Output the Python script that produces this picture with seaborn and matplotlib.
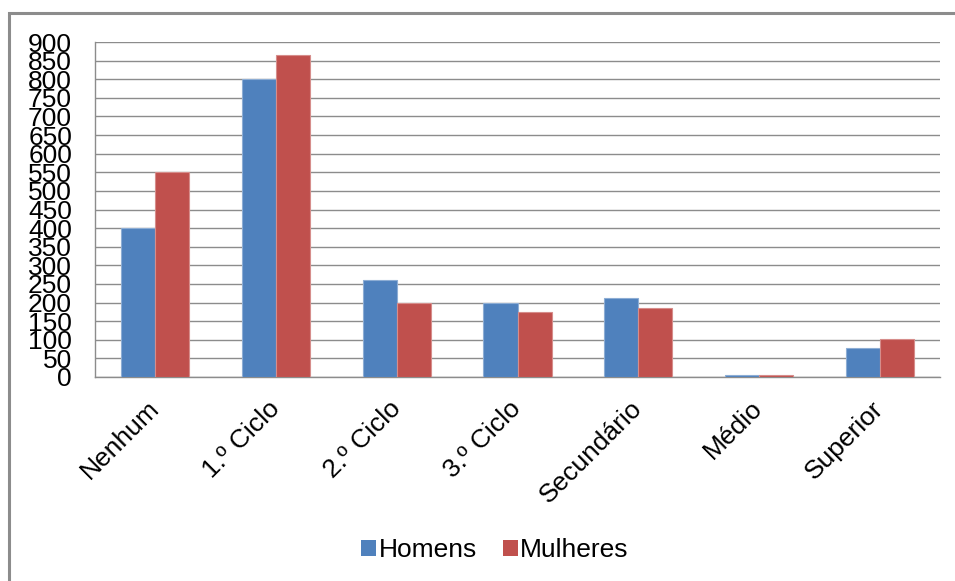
import numpy as np
import pandas as pd
import matplotlib
matplotlib.use("Agg")
import matplotlib.pyplot as plt
import matplotlib.colors as mcolors
from matplotlib.patches import Rectangle
import seaborn as sns

# Nível de escolaridade por sexo
CATEGORIAS = ["Nenhum", "1.º Ciclo", "2.º Ciclo", "3.º Ciclo",
              "Secundário", "Médio", "Superior"]
HOMENS = [400, 800, 260, 200, 213, 6, 78]
MULHERES = [550, 865, 200, 175, 185, 6, 101]
SERIES = ["Homens", "Mulheres"]
CORES = ["#4F81BD", "#C0504D"]
Y_TICKS = list(range(0, 901, 50))

df = pd.DataFrame({
    "categoria": CATEGORIAS * 2,
    "valor": HOMENS + MULHERES,
    "sexo": [SERIES[0]] * len(CATEGORIAS) + [SERIES[1]] * len(CATEGORIAS),
})

sns.set_style("white")
plt.rcParams["font.family"] = ["Liberation Sans", "DejaVu Sans"]
plt.rcParams["text.color"] = "black"
plt.rcParams["xtick.labelcolor"] = "black"
plt.rcParams["ytick.labelcolor"] = "black"
FS = 19

fig = plt.figure(figsize=(9.55, 5.81), dpi=100)
ax = fig.add_axes([95 / 955, 1 - 377 / 581, 845 / 955, 335 / 581])

sns.barplot(data=df, x="categoria", y="valor", hue="sexo", order=CATEGORIAS,
            hue_order=SERIES, palette=CORES, width=0.565, saturation=1,
            ax=ax, legend=False, zorder=3)

# contorno mais claro nas barras, como no Excel
for p in ax.patches:
    fc = np.array(mcolors.to_rgb(p.get_facecolor()))
    p.set_edgecolor(fc + (1 - fc) * 0.35)
    p.set_linewidth(0.8)

grid_c = "#8C8C8C"
ax.set_ylim(0, 900)
ax.set_xlim(-0.5, len(CATEGORIAS) - 0.5)
ax.set_yticks(Y_TICKS)
ax.set_yticklabels([str(v) for v in Y_TICKS], fontsize=FS, color="black")
ax.yaxis.grid(True, color=grid_c, linewidth=1, zorder=0)
ax.set_axisbelow(True)

ax.set_xticks(range(len(CATEGORIAS)))
ax.set_xticklabels(CATEGORIAS, rotation=45, ha="right", va="center",
                   rotation_mode="anchor", fontsize=FS, color="black")
ax.set_xticks(np.arange(-0.5, len(CATEGORIAS)), minor=True)
ax.tick_params(axis="x", which="major", length=0, pad=20)
ax.tick_params(axis="x", which="minor", length=6.5, width=1, color=grid_c,
               direction="out")
ax.tick_params(axis="y", length=6.5, width=1, color=grid_c, direction="out",
               pad=10)
ax.set_xlabel("")
ax.set_ylabel("")

for s in ["top", "right"]:
    ax.spines[s].set_visible(False)
for s in ["left", "bottom"]:
    ax.spines[s].set_color(grid_c)
    ax.spines[s].set_linewidth(1)

handles = [Rectangle((0, 0), 1, 1, facecolor=c, edgecolor="none") for c in CORES]
leg = fig.legend(handles, SERIES, loc="center", bbox_to_anchor=(495 / 955, 1 - 550 / 581),
                 ncol=2, frameon=False, fontsize=FS, handlelength=0.55, handleheight=0.55,
                 handletextpad=0.1, columnspacing=1.0)
for t in leg.get_texts():
    t.set_color("black")

# moldura da área do gráfico
fig.patches.append(Rectangle((9 / 955, -0.1), 1.2, 1 - 13 / 581 + 0.1,
                             transform=fig.transFigure, fill=False,
                             edgecolor="#8C8C8C", linewidth=2.2))

fig.savefig("out.png", dpi=100)
plt.close(fig)
